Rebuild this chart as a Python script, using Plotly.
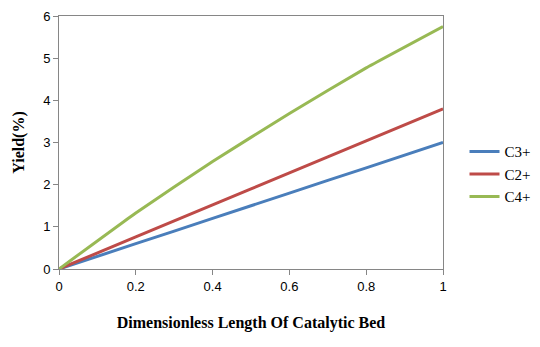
import plotly.graph_objects as go

x_vals = [0, 0.2, 0.4, 0.6, 0.8, 1.0]
c3 = [0, 0.6, 1.2, 1.8, 2.4, 3.0]
c2 = [0, 0.76, 1.52, 2.28, 3.04, 3.8]
c4 = [0, 1.33, 2.55, 3.69, 4.77, 5.75]

series = [("C3+", c3, "#4a7ebb"), ("C2+", c2, "#be4b48"), ("C4+", c4, "#98b954")]

fig = go.Figure()
for name, ys, col in series:
    fig.add_trace(go.Scatter(x=x_vals, y=ys, name=name, mode="lines",
                             line=dict(color=col, width=3, shape="spline", smoothing=0.3)))

axis_common = dict(showgrid=False, zeroline=False, showline=True, linecolor="#868686",
                   linewidth=1, mirror=True, ticks="outside", ticklen=5, tickcolor="#868686",
                   automargin=False,
                   tickfont=dict(family="Liberation Sans, Arial", size=13, color="#000"))

title_font = dict(family="Liberation Serif, Times New Roman", size=16, color="#000")

fig.update_layout(
    width=540, height=347,
    margin=dict(l=59, r=97, t=16, b=78, autoexpand=False),
    paper_bgcolor="white", plot_bgcolor="white",
    xaxis=dict(range=[0, 1], tickvals=[0, 0.2, 0.4, 0.6, 0.8, 1],
               ticktext=["0", "0.2", "0.4", "0.6", "0.8", "1"],
               title=dict(text="<b>Dimensionless Length Of Catalytic Bed</b>",
                          font=title_font, standoff=24),
               **axis_common),
    yaxis=dict(range=[0, 6], dtick=1,
               title=dict(text="<b>Yield(%)</b>", font=title_font, standoff=14),
               **axis_common),
    legend=dict(x=1.056, y=0.375, xanchor="left", yanchor="middle",
                font=dict(family="Liberation Serif, Times New Roman", size=15, color="#000"),
                tracegroupgap=0, itemwidth=30),
    showlegend=True,
)

fig.write_html("out.html", config={"displayModeBar": False},
               post_script="document.body.style.margin='0';document.body.style.overflow='hidden';")
